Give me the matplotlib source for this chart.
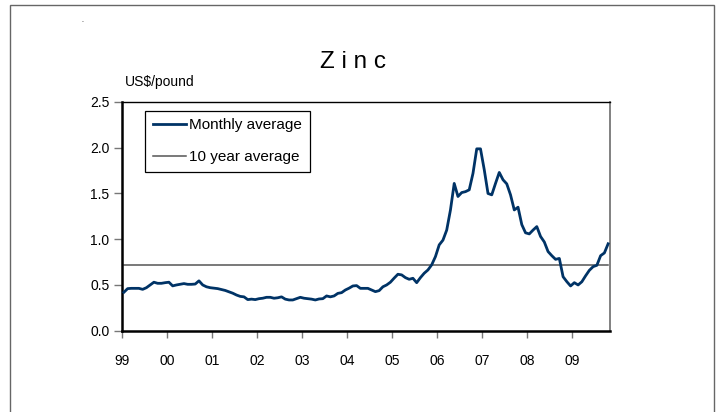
import numpy as np
import matplotlib
matplotlib.use("Agg")
import matplotlib.pyplot as plt
from matplotlib.patches import Rectangle

plt.rcParams['font.family'] = ['Liberation Sans', 'DejaVu Sans']

# monthly zinc price, Jan 1999 - Oct 2009 (US$/pound)
monthly = [
    0.42, 0.46, 0.463, 0.463, 0.463, 0.452, 0.47, 0.50, 0.53, 0.518, 0.518, 0.525,   # 99
    0.53, 0.49, 0.50, 0.507, 0.515, 0.507, 0.507, 0.51, 0.545, 0.50, 0.48, 0.47,     # 00
    0.465, 0.46, 0.45, 0.44, 0.425, 0.41, 0.39, 0.375, 0.37, 0.34, 0.345, 0.34,      # 01
    0.35, 0.355, 0.365, 0.365, 0.355, 0.36, 0.37, 0.345, 0.336, 0.336, 0.35, 0.365,  # 02
    0.355, 0.35, 0.345, 0.336, 0.347, 0.35, 0.38, 0.37, 0.38, 0.408, 0.416, 0.445,   # 03
    0.465, 0.489, 0.493, 0.463, 0.463, 0.463, 0.445, 0.427, 0.438, 0.48, 0.50, 0.53, # 04
    0.575, 0.617, 0.61, 0.58, 0.562, 0.573, 0.525, 0.58, 0.628, 0.664, 0.72, 0.81,   # 05
    0.938, 0.99, 1.10, 1.32, 1.61, 1.467, 1.51, 1.52, 1.54, 1.72, 1.988, 1.988,      # 06
    1.76, 1.50, 1.485, 1.61, 1.73, 1.65, 1.605, 1.485, 1.32, 1.35, 1.16, 1.07,       # 07
    1.058, 1.10, 1.138, 1.03, 0.97, 0.865, 0.82, 0.78, 0.79, 0.59, 0.536, 0.489,     # 08
    0.525, 0.50, 0.535, 0.60, 0.66, 0.70, 0.715, 0.82, 0.85, 0.95,                   # 09
]
ten_year_avg = 0.72
year_labels = ['99', '00', '01', '02', '03', '04', '05', '06', '07', '08', '09']

n = len(monthly)
x = np.arange(n) + 0.5   # points sit between the year tick marks

fig = plt.figure(figsize=(7.2, 4.12), dpi=100)
ax = fig.add_axes([122/720, 1 - 330.7/412, 488/720, 228.7/412])

ax.plot(x, monthly, color='#003366', lw=2.0, label='Monthly average', zorder=3)
ax.plot(x, [ten_year_avg]*n, color='#555555', lw=1.1, label='10 year average', zorder=2)

ax.set_xlim(0, n)
ax.set_ylim(0, 2.5)
ax.set_yticks(np.arange(0, 2.51, 0.5))
ax.set_yticklabels([f'{v:.1f}' for v in np.arange(0, 2.51, 0.5)])
ax.set_xticks(np.arange(0, n, 12))
ax.set_xticklabels(year_labels)

ax.tick_params(axis='y', direction='out', length=6, width=1, color='#777777', pad=3, labelsize=10)
ax.tick_params(axis='x', direction='out', length=5, width=1, color='#777777', pad=12, labelsize=10)

for s in ['left', 'bottom']:
    ax.spines[s].set_color('black')
    ax.spines[s].set_linewidth(1.8)
ax.spines['top'].set_color('black')
ax.spines['top'].set_linewidth(1.0)
ax.spines['right'].set_color('#777777')
ax.spines['right'].set_linewidth(1.3)

leg = ax.legend(loc='upper left', bbox_to_anchor=(0.047, 0.962), borderaxespad=0,
                fancybox=False, edgecolor='black', fontsize=11, handlelength=2.2,
                handletextpad=0.2, labelspacing=1.15, borderpad=0.5, framealpha=1)
leg.get_frame().set_linewidth(0.9)

fig.text(353/720, 1 - 62/412, 'Z i n c', ha='center', va='center', fontsize=17.5)
fig.text(125/720, 1 - 82/412, 'US$/pound', ha='left', va='center', fontsize=10)
fig.text(82/720, 1 - 20/412, '.', ha='center', va='center', fontsize=5)

# outer frame of the chart area
fig.patches.append(Rectangle((10/720, -0.05), 704/720, 1.05 - 5/412, transform=fig.transFigure,
                             fill=False, edgecolor='#666666', lw=1.0))

fig.savefig('out.png', dpi=100)
